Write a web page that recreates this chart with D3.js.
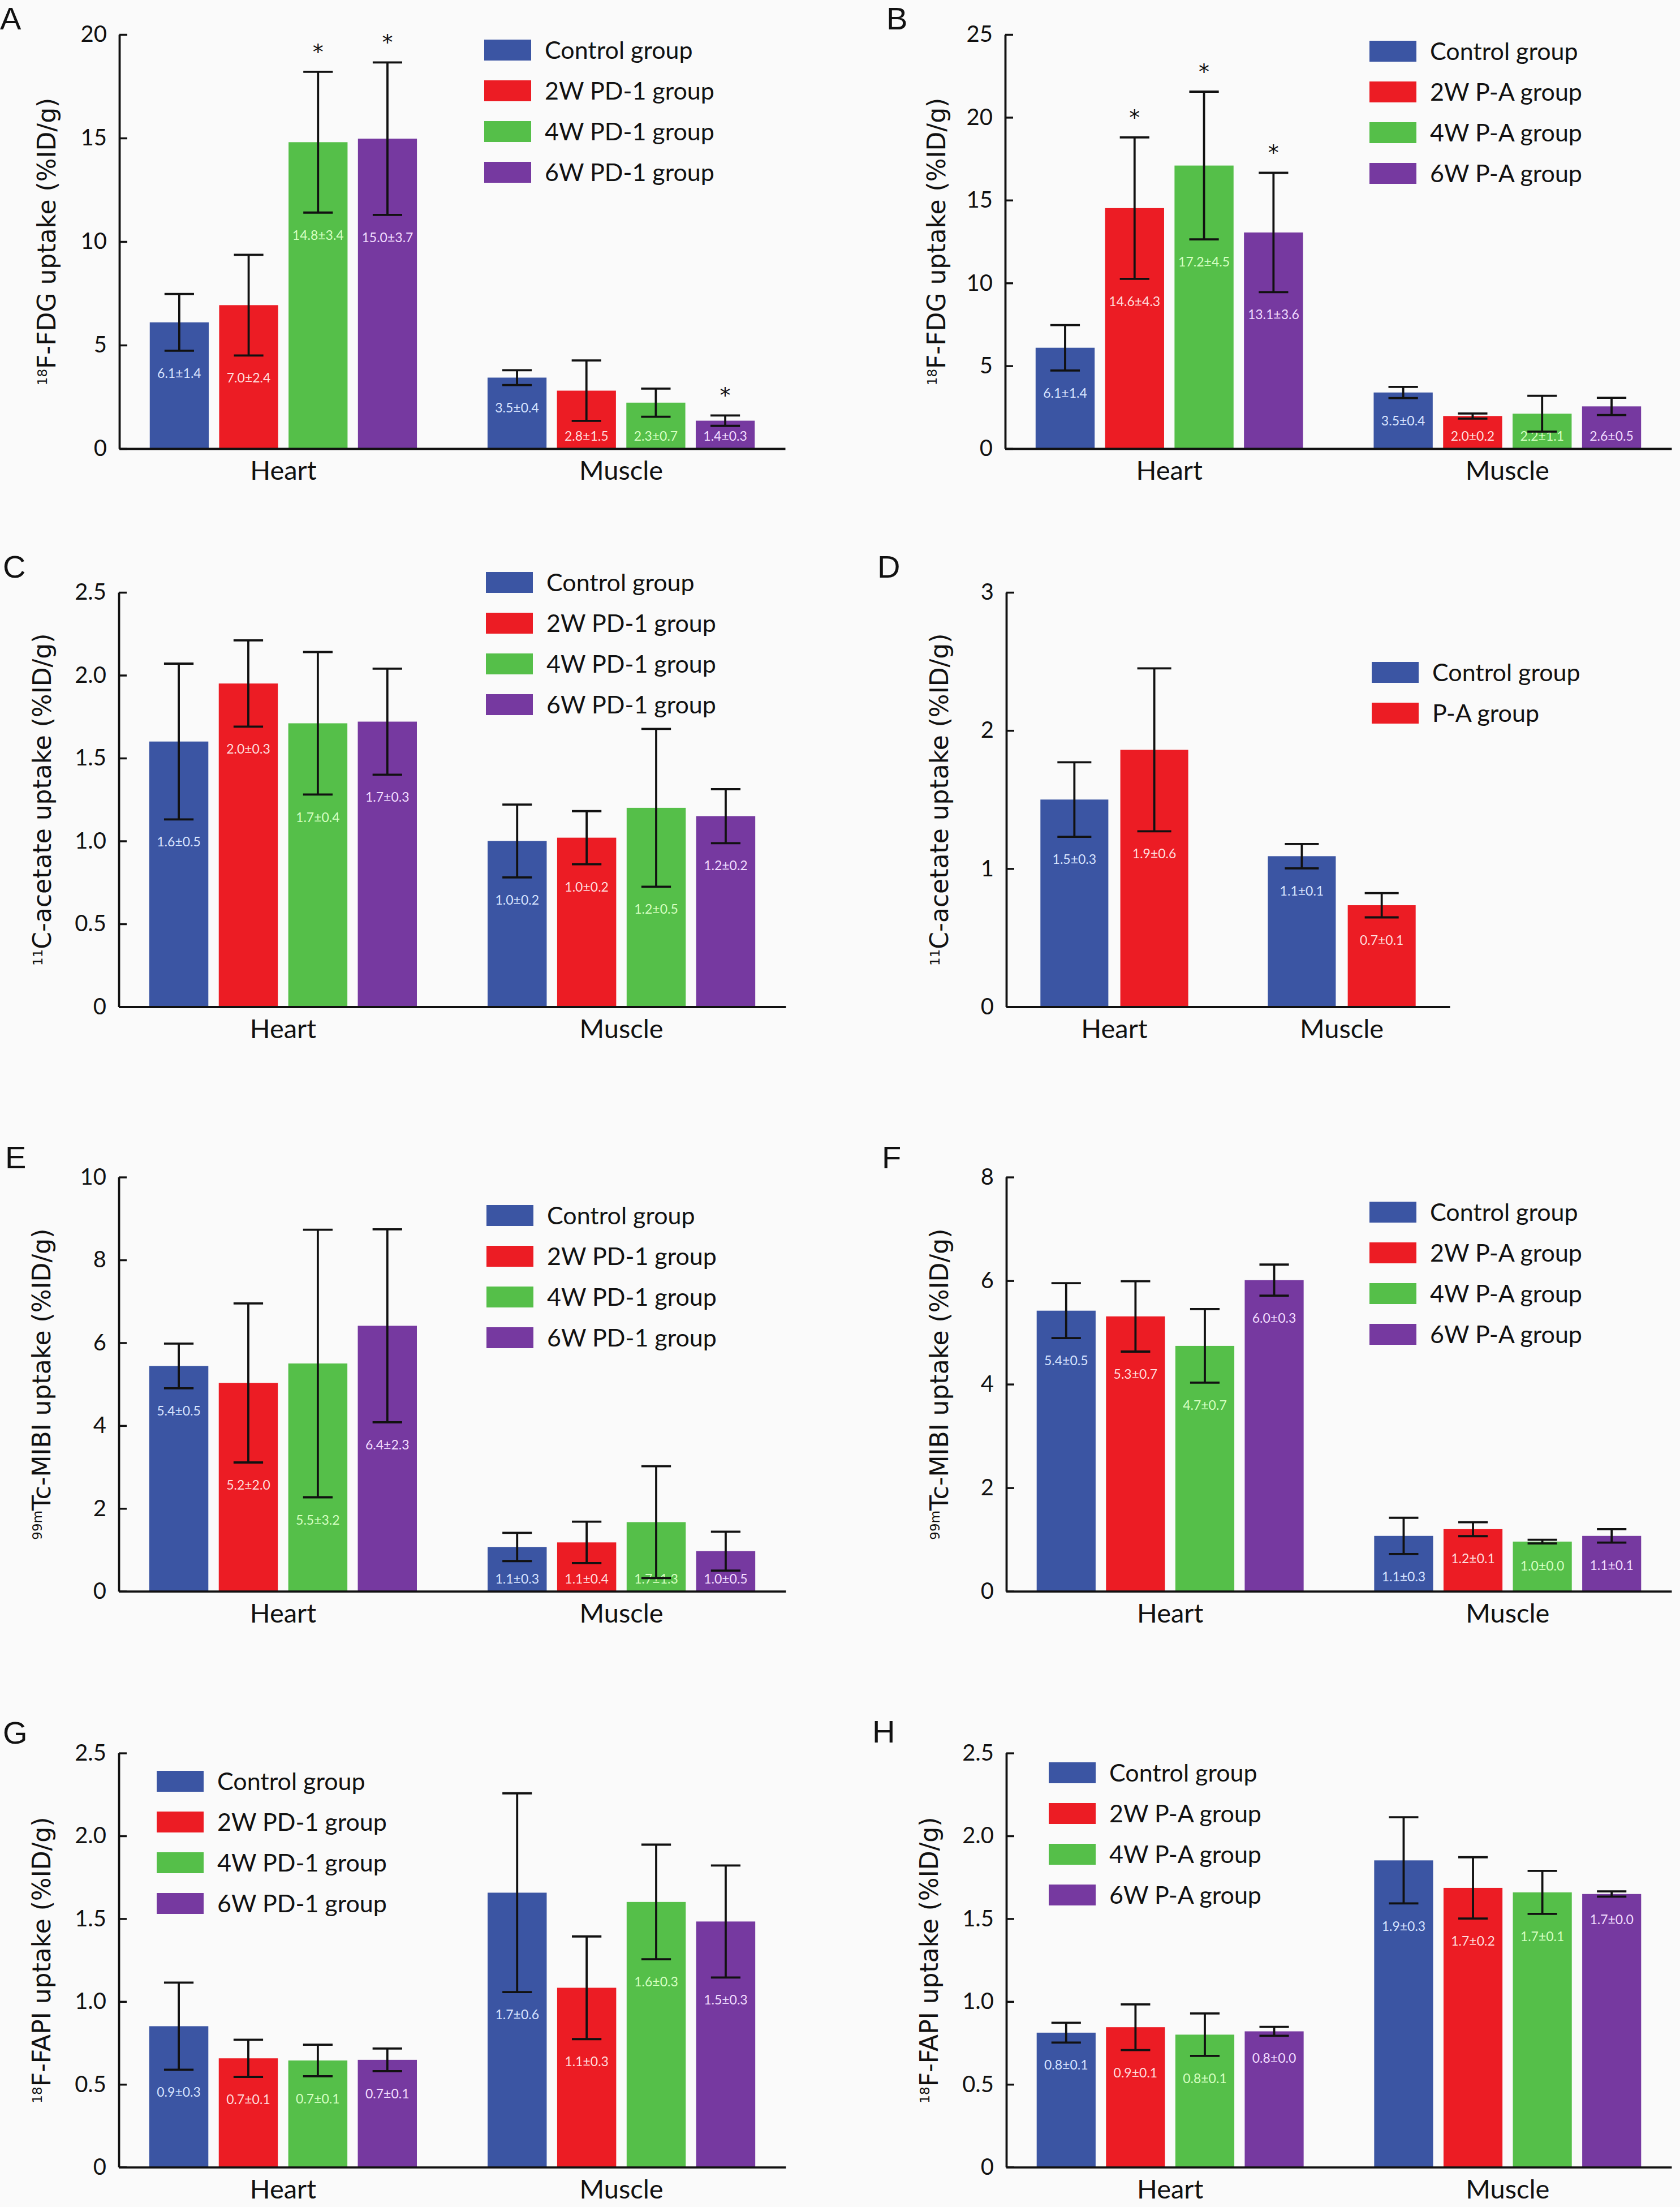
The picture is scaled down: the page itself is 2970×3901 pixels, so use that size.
<!DOCTYPE html>
<html>
<head>
<meta charset="utf-8" />
<style>
  body { margin: 0; background: #fafafa; }
  svg { display: block; background: #fafafa; }
  .letter { font-family: "Liberation Sans", sans-serif; font-size: 56px; }
  .ytitle { font-family: "DejaVu Sans", sans-serif; font-size: 44px; }
  .legend text { font-family: Lato, sans-serif; font-size: 43px; }
  .value { font-family: Lato, sans-serif; font-size: 23px; }
  .star { font-family: "DejaVu Sans", sans-serif; font-size: 38px; }
</style>
</head>
<body>
<svg width="2970" height="3901"></svg>
<script src="https://cdn.jsdelivr.net/npm/d3@7"></script>
<script>
// ---- data ----
const tissues = ["Heart", "Muscle"];
const pd1Groups = ["Control group", "2W PD-1 group", "4W PD-1 group", "6W PD-1 group"];
const paGroups = ["Control group", "2W P-A group", "4W P-A group", "6W P-A group"];
const acetatePaGroups = ["Control group", "P-A group"];

// A: 18F-FDG, PD-1  (rows: Heart, Muscle)
const fdgPd1Mean = [[6.10, 6.93, 14.80, 14.97], [3.43, 2.80, 2.22, 1.35]];
const fdgPd1Sd = [[1.37, 2.43, 3.40, 3.68], [0.36, 1.46, 0.68, 0.25]];
const fdgPd1Labels = [["6.1±1.4", "7.0±2.4", "14.8±3.4", "15.0±3.7"], ["3.5±0.4", "2.8±1.5", "2.3±0.7", "1.4±0.3"]];
const fdgPd1Sig = [[0, 0, 1, 1], [0, 0, 0, 1]];

// B: 18F-FDG, P-A
const fdgPaMean = [[6.09, 14.52, 17.09, 13.05], [3.39, 1.97, 2.11, 2.55]];
const fdgPaSd = [[1.37, 4.27, 4.46, 3.60], [0.34, 0.155, 1.08, 0.52]];
const fdgPaLabels = [["6.1±1.4", "14.6±4.3", "17.2±4.5", "13.1±3.6"], ["3.5±0.4", "2.0±0.2", "2.2±1.1", "2.6±0.5"]];
const fdgPaSig = [[0, 1, 1, 1], [0, 0, 0, 0]];

// C: 11C-acetate, PD-1
const acetatePd1Mean = [[1.60, 1.95, 1.71, 1.72], [1.00, 1.02, 1.20, 1.15]];
const acetatePd1Sd = [[0.47, 0.26, 0.43, 0.32], [0.22, 0.16, 0.476, 0.163]];
const acetatePd1Labels = [["1.6±0.5", "2.0±0.3", "1.7±0.4", "1.7±0.3"], ["1.0±0.2", "1.0±0.2", "1.2±0.5", "1.2±0.2"]];

// D: 11C-acetate, P-A
const acetatePaMean = [[1.50, 1.86], [1.09, 0.735]];
const acetatePaSd = [[0.27, 0.59], [0.088, 0.088]];
const acetatePaLabels = [["1.5±0.3", "1.9±0.6"], ["1.1±0.1", "0.7±0.1"]];

// E: 99mTc-MIBI, PD-1
const mibiPd1Mean = [[5.44, 5.03, 5.50, 6.41], [1.07, 1.18, 1.67, 0.97]];
const mibiPd1Sd = [[0.54, 1.92, 3.23, 2.33], [0.34, 0.50, 1.35, 0.47]];
const mibiPd1Labels = [["5.4±0.5", "5.2±2.0", "5.5±3.2", "6.4±2.3"], ["1.1±0.3", "1.1±0.4", "1.7±1.3", "1.0±0.5"]];

// F: 99mTc-MIBI, P-A
const mibiPaMean = [[5.42, 5.31, 4.74, 6.01], [1.07, 1.20, 0.96, 1.07]];
const mibiPaSd = [[0.53, 0.68, 0.71, 0.30], [0.35, 0.135, 0.035, 0.13]];
const mibiPaLabels = [["5.4±0.5", "5.3±0.7", "4.7±0.7", "6.0±0.3"], ["1.1±0.3", "1.2±0.1", "1.0±0.0", "1.1±0.1"]];

// G: 18F-FAPI, PD-1
const fapiPd1Mean = [[0.851, 0.657, 0.644, 0.648], [1.657, 1.083, 1.601, 1.483]];
const fapiPd1Sd = [[0.263, 0.112, 0.095, 0.068], [0.60, 0.31, 0.346, 0.338]];
const fapiPd1Labels = [["0.9±0.3", "0.7±0.1", "0.7±0.1", "0.7±0.1"], ["1.7±0.6", "1.1±0.3", "1.6±0.3", "1.5±0.3"]];

// H: 18F-FAPI, P-A
const fapiPaMean = [[0.812, 0.845, 0.80, 0.82], [1.852, 1.686, 1.659, 1.649]];
const fapiPaSd = [[0.06, 0.138, 0.128, 0.027], [0.26, 0.185, 0.13, 0.016]];
const fapiPaLabels = [["0.8±0.1", "0.9±0.1", "0.8±0.1", "0.8±0.0"], ["1.9±0.3", "1.7±0.2", "1.7±0.1", "1.7±0.0"]];

// tick values and labels
const fdgTicks = [0, 5, 10, 15, 20];
const fdgTickLabels = ["0", "5", "10", "15", "20"];
const fdgPaTicks = [0, 5, 10, 15, 20, 25];
const fdgPaTickLabels = ["0", "5", "10", "15", "20", "25"];
const halfTicks = [0, 0.5, 1, 1.5, 2, 2.5];
const halfTickLabels = ["0", "0.5", "1.0", "1.5", "2.0", "2.5"];
const acetatePaTicks = [0, 1, 2, 3];
const acetatePaTickLabels = ["0", "1", "2", "3"];
const mibiTicks = [0, 2, 4, 6, 8, 10];
const mibiTickLabels = ["0", "2", "4", "6", "8", "10"];
const mibiPaTicks = [0, 2, 4, 6, 8];
const mibiPaTickLabels = ["0", "2", "4", "6", "8"];

const barColors = ["#3b55a3", "#ec1c24", "#55bf49", "#7639a0"];
const valueColors = ["#d8e4ff", "#ffdede", "#d6ffc2", "#f2ddff"];

// ---- layout of the eight panels ----
const panels = [
  { letter: "A", lx: 0, ly: 52, x0: 211, x1: 1388, y0: 793, y1: 61, tx: 98, iso: "18", title: "F-FDG uptake (%ID/g)",
    groups: pd1Groups, mean: fdgPd1Mean, sd: fdgPd1Sd, labels: fdgPd1Labels, sig: fdgPd1Sig,
    ticks: fdgTicks, tickLabels: fdgTickLabels, legX: 856, legY: 70 },
  { letter: "B", lx: 1567, ly: 52, x0: 1777, x1: 2955, y0: 793, y1: 61, tx: 1671, iso: "18", title: "F-FDG uptake (%ID/g)",
    groups: paGroups, mean: fdgPaMean, sd: fdgPaSd, labels: fdgPaLabels, sig: fdgPaSig,
    ticks: fdgPaTicks, tickLabels: fdgPaTickLabels, legX: 2421, legY: 72 },
  { letter: "C", lx: 5, ly: 1021, x0: 210, x1: 1389, y0: 1779.5, y1: 1047, tx: 90, iso: "11", title: "C-acetate uptake (%ID/g)",
    groups: pd1Groups, mean: acetatePd1Mean, sd: acetatePd1Sd, labels: acetatePd1Labels, sig: null,
    ticks: halfTicks, tickLabels: halfTickLabels, legX: 859, legY: 1011 },
  { letter: "D", lx: 1551, ly: 1021, x0: 1779, x1: 2563, y0: 1779.5, y1: 1047, tx: 1676, iso: "11", title: "C-acetate uptake (%ID/g)",
    groups: acetatePaGroups, mean: acetatePaMean, sd: acetatePaSd, labels: acetatePaLabels, sig: null,
    ticks: acetatePaTicks, tickLabels: acetatePaTickLabels, legX: 2425, legY: 1170, padIn: 0.35, padOut: 0.15 },
  { letter: "E", lx: 9, ly: 2065, x0: 210, x1: 1389, y0: 2812.7, y1: 2080.6, tx: 89, iso: "99m", title: "Tc-MIBI uptake (%ID/g)",
    groups: pd1Groups, mean: mibiPd1Mean, sd: mibiPd1Sd, labels: mibiPd1Labels, sig: null,
    ticks: mibiTicks, tickLabels: mibiTickLabels, legX: 860, legY: 2130 },
  { letter: "F", lx: 1559, ly: 2065, x0: 1779, x1: 2955, y0: 2812.7, y1: 2080.6, tx: 1676, iso: "99m", title: "Tc-MIBI uptake (%ID/g)",
    groups: paGroups, mean: mibiPaMean, sd: mibiPaSd, labels: mibiPaLabels, sig: null,
    ticks: mibiPaTicks, tickLabels: mibiPaTickLabels, legX: 2421, legY: 2124 },
  { letter: "G", lx: 5, ly: 3082, x0: 210, x1: 1389, y0: 3830.6, y1: 3098.6, tx: 89, iso: "18", title: "F-FAPI uptake (%ID/g)",
    groups: pd1Groups, mean: fapiPd1Mean, sd: fapiPd1Sd, labels: fapiPd1Labels, sig: null,
    ticks: halfTicks, tickLabels: halfTickLabels, legX: 277, legY: 3130 },
  { letter: "H", lx: 1542, ly: 3080, x0: 1779, x1: 2955, y0: 3830.6, y1: 3098.6, tx: 1658, iso: "18", title: "F-FAPI uptake (%ID/g)",
    groups: paGroups, mean: fapiPaMean, sd: fapiPaSd, labels: fapiPaLabels, sig: null,
    ticks: halfTicks, tickLabels: halfTickLabels, legX: 1854, legY: 3115 }
];

let svg = d3.select("svg");

panels.forEach(function (p) {
  let g = svg.append("g");

  let y = d3.scaleLinear()
    .domain([0, p.ticks[p.ticks.length - 1]])
    .range([p.y0, p.y1]);

  let x = d3.scaleBand()
    .domain(tissues)
    .range([p.x0, p.x1])
    .paddingInner(p.padIn || 0.209)
    .paddingOuter(p.padOut || 0.09);

  let xs = d3.scaleBand()
    .domain(p.groups)
    .range([0, x.bandwidth()])
    .paddingInner(0.15);

  let rows = [];
  tissues.forEach((t, ti) => {
    p.groups.forEach((grp, gi) => {
      rows.push({
        tissue: t, group: grp, gi: gi,
        mean: p.mean[ti][gi], sd: p.sd[ti][gi],
        label: p.labels[ti][gi],
        sig: p.sig ? p.sig[ti][gi] : 0
      });
    });
  });
  let cx = d => x(d.tissue) + xs(d.group) + xs.bandwidth() / 2;

  // bars
  g.append("g").selectAll("rect")
    .data(rows)
    .join("rect")
    .attr("x", d => x(d.tissue) + xs(d.group))
    .attr("width", xs.bandwidth())
    .attr("y", d => y(d.mean))
    .attr("height", d => y(0) - y(d.mean))
    .attr("fill", d => barColors[d.gi]);

  // value labels inside bars
  g.append("g").selectAll("text")
    .data(rows)
    .join("text")
    .attr("class", "value")
    .attr("x", cx)
    .attr("y", d => Math.min(y(d.mean - d.sd) + 40, y(0) - 22))
    .attr("dy", "0.35em")
    .attr("text-anchor", "middle")
    .attr("fill", d => valueColors[d.gi])
    .text(d => d.label);

  // error bars
  let cap = xs.bandwidth() / 4;
  let err = g.append("g").attr("stroke", "#111").attr("stroke-width", 3.8).attr("fill", "none");
  err.selectAll("path")
    .data(rows)
    .join("path")
    .attr("d", d => {
      let c = cx(d), hi = y(d.mean + d.sd), lo = y(d.mean - d.sd);
      return `M${c},${hi}V${lo}M${c - cap},${hi}H${c + cap}M${c - cap},${lo}H${c + cap}`;
    });

  // significance marks
  g.append("g").selectAll("text")
    .data(rows.filter(d => d.sig))
    .join("text")
    .attr("class", "star")
    .attr("x", cx)
    .attr("y", d => y(d.mean + d.sd) - 22)
    .attr("text-anchor", "middle")
    .attr("fill", "#111")
    .text("*");

  // y axis, ticks pointing inward
  let yAxis = g.append("g")
    .attr("transform", `translate(${p.x0},0)`)
    .call(d3.axisLeft(y)
      .tickValues(p.ticks)
      .tickFormat((d, i) => p.tickLabels[i])
      .tickSizeInner(-14)
      .tickSizeOuter(0)
      .tickPadding(22));
  yAxis.select(".domain").attr("stroke-width", 3.8).attr("stroke", "#111");
  yAxis.selectAll(".tick line").attr("stroke-width", 3.5).attr("stroke", "#111");
  yAxis.selectAll(".tick text")
    .attr("font-family", "Lato, sans-serif")
    .attr("font-size", 40)
    .attr("fill", "#111");

  // x axis with tissue names
  let xAxis = g.append("g")
    .attr("transform", `translate(0,${p.y0})`)
    .call(d3.axisBottom(x).tickSizeInner(0).tickSizeOuter(0).tickPadding(22));
  xAxis.select(".domain").attr("stroke-width", 3.8).attr("stroke", "#111");
  xAxis.selectAll(".tick text")
    .attr("font-family", "Lato, sans-serif")
    .attr("font-size", 47)
    .attr("fill", "#111");

  // y axis title with isotope superscript
  let title = g.append("text")
    .attr("class", "ytitle")
    .attr("text-anchor", "middle")
    .attr("transform", `translate(${p.tx},${(p.y0 + p.y1) / 2}) rotate(-90)`)
    .attr("fill", "#111");
  title.append("tspan").attr("font-size", 23).attr("dy", -15).text(p.iso);
  title.append("tspan").attr("dy", 15).text(p.title);

  // legend
  let legend = g.append("g").attr("class", "legend");
  let items = legend.selectAll("g")
    .data(p.groups)
    .join("g")
    .attr("transform", (d, i) => `translate(${p.legX},${p.legY + i * 72})`);
  items.append("rect")
    .attr("width", 83)
    .attr("height", 37)
    .attr("fill", (d, i) => barColors[i]);
  items.append("text")
    .attr("x", 107)
    .attr("y", 34)
    .attr("fill", "#111")
    .text(d => d);

  // panel letter
  g.append("text")
    .attr("class", "letter")
    .attr("x", p.lx)
    .attr("y", p.ly)
    .attr("fill", "#111")
    .text(p.letter);
});
</script>
</body>
</html>
